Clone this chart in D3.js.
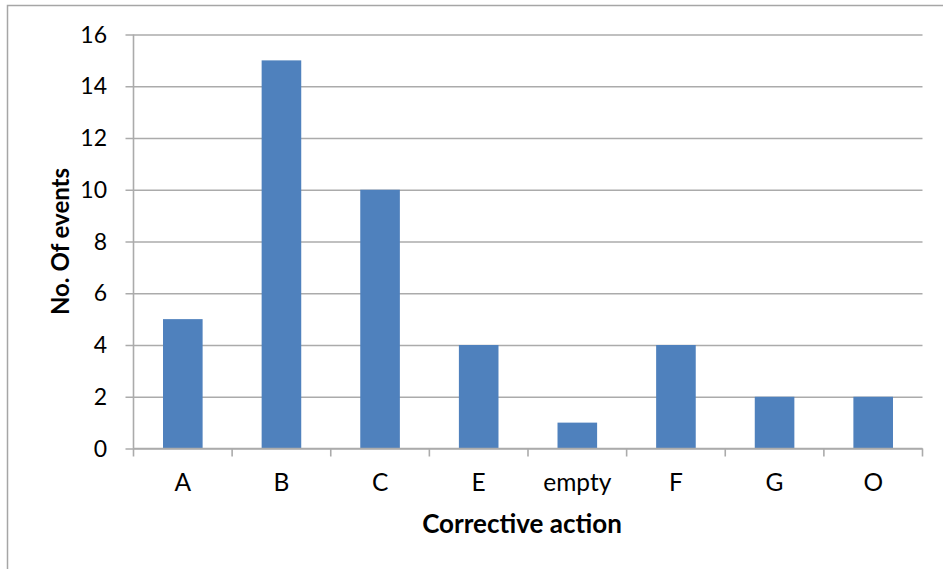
<!DOCTYPE html>
<html>
<head>
<meta charset="utf-8">
<script src="https://cdn.jsdelivr.net/npm/d3@7"></script>
<style>
  html, body { margin: 0; padding: 0; background: #ffffff; }
  svg { display: block; }
  text { font-family: Lato, "Open Sans", "Liberation Sans", sans-serif; fill: #000; }
</style>
</head>
<body>
<svg id="chart" width="943" height="569"></svg>
<script>
// Events per corrective action
const categories = ["A", "B", "C", "E", "empty", "F", "G", "O"];
const events = [5, 15, 10, 4, 1, 4, 2, 2];
const yTicks = [0, 2, 4, 6, 8, 10, 12, 14, 16];
const xTitle = "Corrective action";
const yTitle = "No. Of events";

const svg = d3.select("#chart");
const W = 943, H = 569;
const plot = { left: 133.5, right: 922.5, top: 34.5, bottom: 448.5 };
const gridColor = "#ababab";
const barColor = "#4f81bd";

// Outer chart frame
svg.append("rect")
  .attr("x", 7.5).attr("y", 5.5)
  .attr("width", W).attr("height", H)
  .attr("fill", "#fff")
  .attr("stroke", "#a6a6a6").attr("stroke-width", 1.5);

const x = d3.scaleBand()
  .domain(categories)
  .range([plot.left, plot.right])
  .paddingInner(0.6).paddingOuter(0.3);

const y = d3.scaleLinear()
  .domain([0, 16])
  .range([plot.bottom, plot.top]);

// Horizontal gridlines with outside tick marks
const yAxis = svg.append("g")
  .attr("transform", `translate(${plot.left},0)`)
  .call(d3.axisLeft(y)
    .tickValues(yTicks)
    .tickSize(-(plot.right - plot.left))
    .tickSizeOuter(0)
    .tickPadding(0)
    .tickFormat(""));
yAxis.select(".domain").remove();
yAxis.selectAll(".tick line")
  .attr("x1", -8)
  .attr("stroke", gridColor).attr("stroke-width", 1.6);

// Y tick labels
svg.append("g").selectAll("text")
  .data(yTicks)
  .join("text")
  .attr("x", 107)
  .attr("y", d => y(d))
  .attr("dy", "0.35em")
  .attr("text-anchor", "end")
  .attr("font-size", 23)
  .text(d => d);

// Bars
svg.append("g").selectAll("rect")
  .data(categories.map((c, i) => ({ c, v: events[i] })))
  .join("rect")
  .attr("x", d => x(d.c) + x.bandwidth() / 2 - 19.8)
  .attr("width", 39.6)
  .attr("y", d => y(d.v))
  .attr("height", d => y(0) - y(d.v))
  .attr("fill", barColor);

// Vertical axis line
svg.append("line")
  .attr("x1", plot.left).attr("x2", plot.left)
  .attr("y1", plot.top).attr("y2", plot.bottom)
  .attr("stroke", gridColor).attr("stroke-width", 1.6);

// Category axis with ticks at band boundaries
const xAxisG = svg.append("g").attr("transform", `translate(0,${plot.bottom})`);
xAxisG.append("line")
  .attr("x1", plot.left).attr("x2", plot.right)
  .attr("stroke", gridColor).attr("stroke-width", 1.6);
const step = (plot.right - plot.left) / categories.length;
xAxisG.selectAll("line.tick")
  .data(d3.range(categories.length + 1))
  .join("line")
  .attr("class", "tick")
  .attr("x1", i => plot.left + i * step)
  .attr("x2", i => plot.left + i * step)
  .attr("y1", 0).attr("y2", 8)
  .attr("stroke", gridColor).attr("stroke-width", 1.6);
xAxisG.selectAll("text")
  .data(categories)
  .join("text")
  .attr("x", d => x(d) + x.bandwidth() / 2)
  .attr("y", 42.5)
  .attr("text-anchor", "middle")
  .attr("font-size", 24.5)
  .text(d => d);

// Axis titles
svg.append("text")
  .attr("x", 522).attr("y", 532.5)
  .attr("text-anchor", "middle")
  .attr("font-size", 26).attr("font-weight", "bold")
  .text(xTitle);

svg.append("text")
  .attr("transform", `translate(68.5,${(plot.top + plot.bottom) / 2}) rotate(-90)`)
  .attr("text-anchor", "middle")
  .attr("font-size", 24).attr("font-weight", "bold")
  .text(yTitle);
</script>
</body>
</html>
